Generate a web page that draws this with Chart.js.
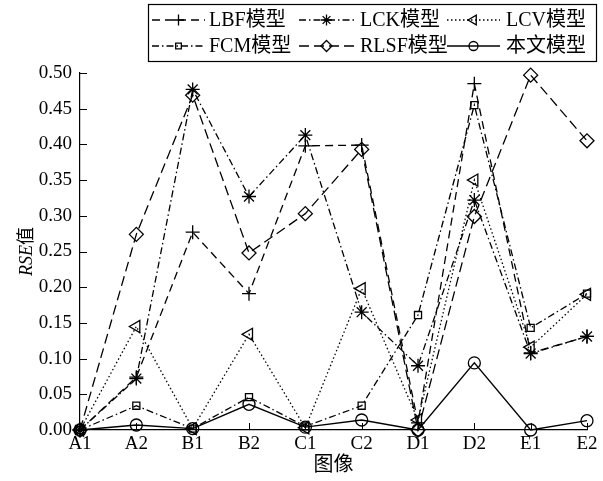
<!DOCTYPE html>
<html><head><meta charset="utf-8">
<script src="https://cdn.jsdelivr.net/npm/chart.js@4"></script>
<style>html,body{margin:0;padding:0;background:#fff}#wrap{width:603px;height:481px}</style>
</head><body><div id="wrap"><canvas id="c" width="603" height="481"></canvas></div>
<script>
// ---- data ----
const categories = ['A1','A2','B1','B2','C1','C2','D1','D2','E1','E2'];
const seriesNames = ['LBF模型','LCK模型','LCV模型','FCM模型','RLSF模型','本文模型'];
const lbf  = [0, 0.074, 0.277, 0.191, 0.398, 0.399, 0.010, 0.485, 0.108, 0.131];
const lck  = [0, 0.072, 0.477, 0.327, 0.413, 0.165, 0.090, 0.322, 0.107, 0.131];
const lcv  = [0, 0.145, 0.002, 0.134, 0.003, 0.198, 0.014, 0.350, 0.116, 0.190];
const fcm  = [0, 0.034, 0.002, 0.046, 0.005, 0.034, 0.161, 0.455, 0.143, 0.191];
const rlsf = [0, 0.274, 0.469, 0.248, 0.303, 0.393, 0.000, 0.299, 0.497, 0.405];
const ours = [0, 0.007, 0.002, 0.036, 0.004, 0.014, 0.000, 0.094, 0.000, 0.013];
const yTickValues = [0, 0.05, 0.10, 0.15, 0.20, 0.25, 0.30, 0.35, 0.40, 0.45, 0.50];
const xTitle = '图像';
const yTitleItalic = 'RSE';
const yTitleRest = '值';

const SERIF = '"Liberation Serif", "Noto Sans CJK SC", serif';

function ds(label, data, dash, style, radius, rot) {
  return {
    label, data,
    borderColor: '#000', borderWidth: 1.3, borderDash: dash,
    pointStyle: style, pointRadius: radius, pointRotation: rot || 0,
    pointBorderColor: '#000', pointBackgroundColor: 'rgba(0,0,0,0)',
    pointBorderWidth: 1.3, tension: 0, fill: false, clip: false
  };
}

const datasets = [
  ds(seriesNames[0], lbf,  [8, 5], 'cross', 7),
  ds(seriesNames[1], lck,  [7, 3, 1.5, 3], 'star', 7),
  ds(seriesNames[2], lcv,  [1.5, 2.5], 'triangle', 7, -90),
  ds(seriesNames[3], fcm,  [7, 3, 1.5, 3], 'rect', 5),
  ds(seriesNames[4], rlsf, [10, 5], 'rectRot', 7),
  ds(seriesNames[5], ours, [], 'circle', 6)
];

const innerTicks = {
  id: 'innerTicks',
  beforeDatasetsDraw(chart) {
    const {ctx, chartArea, scales: {x, y}} = chart;
    ctx.save();
    ctx.strokeStyle = '#000'; ctx.lineWidth = 1;
    ctx.beginPath();
    x.ticks.forEach((t, i) => {
      const px = Math.round(x.getPixelForTick(i)) + 0.5;
      ctx.moveTo(px, chartArea.bottom); ctx.lineTo(px, chartArea.bottom - 7);
    });
    y.ticks.forEach((t, i) => {
      const py = Math.round(y.getPixelForTick(i)) + 0.5;
      ctx.moveTo(chartArea.left, py); ctx.lineTo(chartArea.left + 7, py);
    });
    ctx.stroke();
    ctx.restore();
  }
};

const yTitlePlugin = {
  id: 'yTitle',
  afterDraw(chart) {
    const {ctx, chartArea} = chart;
    ctx.save();
    const cy = (chartArea.top + chartArea.bottom) / 2;
    ctx.translate(27, cy);
    ctx.rotate(-Math.PI / 2);
    ctx.fillStyle = '#000';
    ctx.textBaseline = 'middle';
    const fi = 'italic 18px ' + SERIF, fn = '18px ' + SERIF;
    ctx.font = fi; const w1 = ctx.measureText(yTitleItalic).width;
    ctx.font = fn; const w2 = ctx.measureText(yTitleRest).width;
    const x0 = -(w1 + w2) / 2;
    ctx.font = fi; ctx.fillText(yTitleItalic, x0, 0);
    ctx.font = fn; ctx.fillText(yTitleRest, x0 + w1, 0);
    ctx.restore();
  }
};

const legendPlugin = {
  id: 'boxLegend',
  afterDraw(chart) {
    const {ctx} = chart;
    const box = {l: 148, t: 4, r: 596, b: 61};
    const rows = [20, 46];
    const cols = [{s: 152, e: 205, tx: 209}, {s: 299, e: 354, tx: 360}, {s: 447, e: 500, tx: 506}];
    ctx.save();
    ctx.strokeStyle = '#000'; ctx.lineWidth = 1.2;
    ctx.strokeRect(box.l + 0.5, box.t + 0.5, box.r - box.l, box.b - box.t);
    chart.data.datasets.forEach((d, i) => {
      const row = rows[Math.floor(i / 3)], c = cols[i % 3];
      ctx.save();
      ctx.strokeStyle = '#000'; ctx.lineWidth = d.borderWidth;
      ctx.setLineDash(d.borderDash || []);
      ctx.beginPath(); ctx.moveTo(c.s, row); ctx.lineTo(c.e, row); ctx.stroke();
      ctx.setLineDash([]);
      ctx.fillStyle = 'rgba(0,0,0,0)';
      ctx.lineWidth = d.pointBorderWidth;
      Chart.helpers.drawPoint(ctx, {
        pointStyle: d.pointStyle, rotation: d.pointRotation,
        radius: Math.max(4, d.pointRadius - 1.5), borderWidth: d.pointBorderWidth
      }, (c.s + c.e) / 2, row);
      ctx.restore();
      ctx.fillStyle = '#000';
      ctx.font = '20px ' + SERIF;
      ctx.textBaseline = 'middle';
      ctx.fillText(d.label, c.tx, row + 1);
    });
    ctx.restore();
  }
};

new Chart(document.getElementById('c'), {
  type: 'line',
  data: {labels: categories, datasets},
  options: {
    responsive: false, animation: false, devicePixelRatio: 1,
    layout: {padding: {top: 73, right: 16, left: 0, bottom: 0}},
    plugins: {legend: {display: false}, tooltip: {enabled: false}},
    scales: {
      x: {
        type: 'category', offset: false,
        grid: {display: false, drawTicks: false},
        border: {display: true, color: '#000', width: 1.2},
        ticks: {color: '#000', font: {family: SERIF, size: 19}, padding: 3, maxRotation: 0, autoSkip: false},
        title: {display: true, text: xTitle, color: '#000', font: {family: SERIF, size: 20}, padding: {top: 0, bottom: 3}},
        afterFit(s) { s.height = 51; }
      },
      y: {
        min: 0, max: 0.5,
        grid: {display: false, drawTicks: false},
        border: {display: true, color: '#000', width: 1.2},
        ticks: {color: '#000', font: {family: SERIF, size: 19}, padding: 8, callback: v => Number(v).toFixed(2)},
        afterBuildTicks(s) { s.ticks = yTickValues.map(v => ({value: v})); },
        afterFit(s) { s.width = 80; }
      }
    }
  },
  plugins: [innerTicks, yTitlePlugin, legendPlugin]
});
</script>
</body></html>
